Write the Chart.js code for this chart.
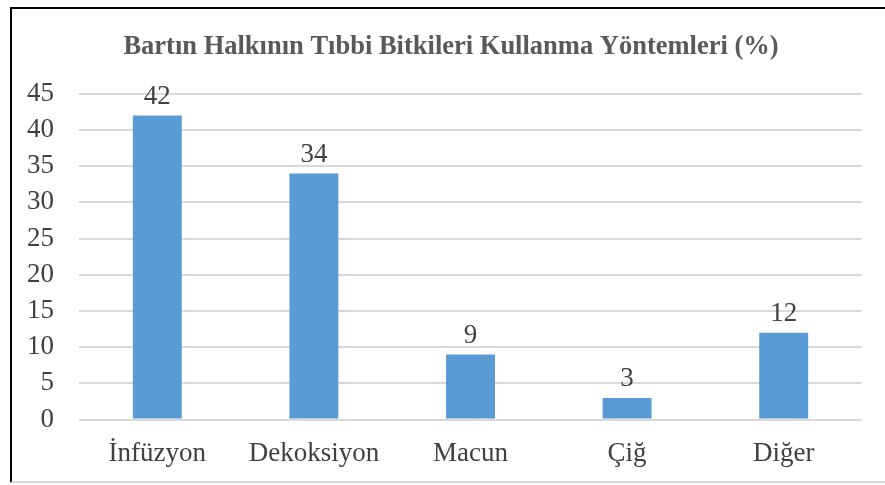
<!DOCTYPE html>
<html>
<head>
<meta charset="utf-8">
<script src="https://cdn.jsdelivr.net/npm/chart.js@4"></script>
<style>
  html, body { margin: 0; padding: 0; background: #fff; }
  #frame {
    position: absolute; left: 10px; top: 7px; width: 875px; height: 476px;
    border-left: 2px solid #000; border-top: 2px solid #000;
    border-bottom: 2px solid #d9d9d9; box-sizing: border-box;
  }
  #wrap { position: absolute; left: 0; top: 0; width: 885px; height: 485px; }
</style>
</head>
<body>
<div id="frame"></div>
<div id="wrap"><canvas id="myChart" width="885" height="485"></canvas></div>
<script>
const categories = ['İnfüzyon', 'Dekoksiyon', 'Macun', 'Çiğ', 'Diğer'];
const values = [42, 34, 9, 3, 12];
const yTicks = [0, 5, 10, 15, 20, 25, 30, 35, 40, 45];

const serif = "'Liberation Serif', 'Times New Roman', serif";

// value labels above the bars
const barLabels = {
  id: 'barLabels',
  afterLayout(chart) {
    // title in the reference sits a bit right of the canvas centre
    const t = chart.titleBlock;
    t.left = 40;
    t.width = t.right - t.left;
  },
  afterDatasetsDraw(chart) {
    const ctx = chart.ctx;
    const meta = chart.getDatasetMeta(0);
    ctx.save();
    ctx.font = '27px ' + serif;
    ctx.fillStyle = '#404040';
    ctx.textAlign = 'center';
    ctx.textBaseline = 'bottom';
    meta.data.forEach((bar, i) => {
      ctx.fillText(values[i], bar.x, bar.y - 5);
    });
    ctx.restore();
  }
};

new Chart(document.getElementById('myChart'), {
  type: 'bar',
  data: {
    labels: categories,
    datasets: [{
      data: values,
      backgroundColor: '#5b9bd5',
      barPercentage: 0.625,
      categoryPercentage: 0.5
    }]
  },
  options: {
    responsive: false,
    animation: false,
    layout: { padding: { left: 2, right: 23, top: 19, bottom: 5 } },
    plugins: {
      legend: { display: false },
      tooltip: { enabled: false },
      title: {
        display: true,
        text: 'Bartın Halkının Tıbbi Bitkileri Kullanma Yöntemleri (%)',
        color: '#595959',
        font: { family: serif, size: 26.5, weight: 'bold' },
        padding: { top: 12, bottom: 31 }
      }
    },
    scales: {
      x: {
        grid: { display: false },
        border: { display: false },
        ticks: { color: '#404040', font: { family: serif, size: 27 }, padding: 10 }
      },
      y: {
        min: 0, max: 45,
        afterBuildTicks(axis) { axis.ticks = yTicks.map(v => ({ value: v })); },
        grid: { color: '#d9d9d9', lineWidth: 2, drawTicks: false },
        border: { display: false },
        ticks: { color: '#404040', font: { family: serif, size: 27 }, padding: 25, autoSkip: false }
      }
    }
  },
  plugins: [barLabels]
});
</script>
</body>
</html>
